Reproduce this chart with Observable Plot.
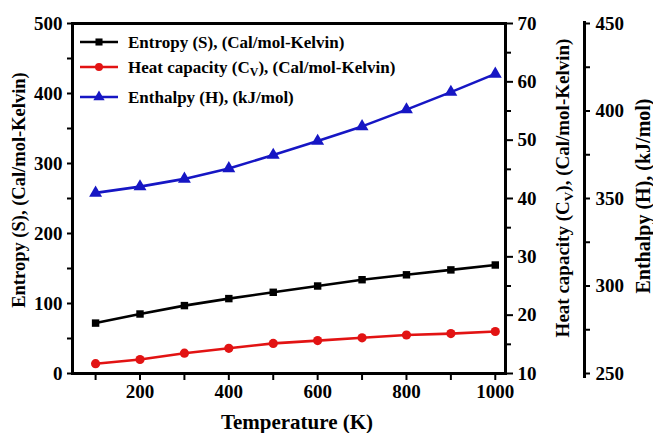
<!DOCTYPE html>
<html>
<head>
<meta charset="utf-8">
<script src="https://cdn.jsdelivr.net/npm/d3@7"></script>
<script src="https://cdn.jsdelivr.net/npm/@observablehq/plot@0.6"></script>
<style>
  html, body { margin: 0; padding: 0; background: #fff; }
  #chart { position: relative; width: 653px; height: 433px; }
</style>
</head>
<body>
<div id="chart"></div>
<script>
// ---- data (values as plotted against the left axis) ----
const temperature = [100, 200, 300, 400, 500, 600, 700, 800, 900, 1000];
const entropy = [72, 85, 97, 107, 116, 125, 134, 141, 148, 155];
const heatCapacity = [14, 20, 29, 36, 43, 47, 51, 55, 57, 60];
const enthalpy = [258, 267, 278, 293, 312, 332, 353, 377, 402, 428];

// ---- axes / ticks ----
const xDomain = [48, 1023];
const yDomain = [0, 500];
const xTicks = [100, 200, 300, 400, 500, 600, 700, 800, 900, 1000];
const yTicks = [0, 100, 200, 300, 400, 500];
const yMinorTicks = [50, 150, 250, 350, 450];
const cvDomain = [10, 70];
const cvTicks = [10, 20, 30, 40, 50, 60, 70];
const cvMinorTicks = [15, 25, 35, 45, 55, 65];
const hDomain = [250, 450];
const hTicks = [250, 300, 350, 400, 450];
const hMinorTicks = [275, 325, 375, 425];

const seriesNames = ["Entropy (S), (Cal/mol-Kelvin)", "Heat capacity (C_V), (Cal/mol-Kelvin)", "Enthalpy (H), (kJ/mol)"];
const seriesColors = ["#000000", "#e21313", "#1616c4"];

const toLeft = (dom) => (v) => (v - dom[0]) / (dom[1] - dom[0]) * (yDomain[1] - yDomain[0]) + yDomain[0];
const fromLeft = (dom) => (y) => Math.round((y - yDomain[0]) / (yDomain[1] - yDomain[0]) * (dom[1] - dom[0]) + dom[0]);
const cvToY = toLeft(cvDomain), cvFromY = fromLeft(cvDomain);
const hToY = toLeft(hDomain), hFromY = fromLeft(hDomain);

const rows = [];
[entropy, heatCapacity, enthalpy].forEach((vals, s) => {
  temperature.forEach((t, i) => rows.push({series: s, T: t, v: vals[i]}));
});

const FONT = "Liberation Serif, Times New Roman, serif";
const W = 653, H = 433;
const mL = 72, mR = 148, mT = 23, mB = 60;

const plot = Plot.plot({
  width: W, height: H,
  marginLeft: mL, marginRight: mR, marginTop: mT, marginBottom: mB,
  style: {fontFamily: FONT, fontWeight: "bold", fontSize: "19px", background: "white", color: "black", overflow: "visible"},
  x: {domain: xDomain},
  y: {domain: yDomain},
  marks: [
    // left axis
    Plot.axisY({ticks: yTicks, tickSize: 5, tickPadding: 5, fontSize: 19, strokeWidth: 2, label: null}),
    Plot.axisY({ticks: yMinorTicks, tickSize: 5, tickFormat: () => "", strokeWidth: 2, label: null}),
    // bottom axis
    Plot.axisX({ticks: xTicks, tickSize: 7, tickPadding: 4, fontSize: 19, strokeWidth: 2,
      tickFormat: d => d % 200 === 0 ? String(d) : "", label: null}),
    // right axis 1 (heat capacity)
    Plot.axisY({anchor: "right", ticks: cvTicks.map(cvToY), tickFormat: d => String(cvFromY(d)),
      tickSize: 7, tickPadding: 5, fontSize: 19, strokeWidth: 2, label: null}),
    Plot.axisY({anchor: "right", ticks: cvMinorTicks.map(cvToY), tickFormat: () => "",
      tickSize: 5, strokeWidth: 2, label: null}),
    // right axis 2 (enthalpy), offset outward
    Plot.ruleX([xDomain[1]], {dx: 79, stroke: "black", strokeWidth: 3, insetTop: -2, insetBottom: -5}),
    Plot.axisY({anchor: "right", dx: 79, ticks: hTicks.map(hToY), tickFormat: d => String(hFromY(d)),
      tickSize: 5, tickPadding: 6, fontSize: 19, strokeWidth: 2, label: null}),
    Plot.axisY({anchor: "right", dx: 79, ticks: hMinorTicks.map(hToY), tickFormat: () => "",
      tickSize: 5, strokeWidth: 2, label: null}),
    // frame
    Plot.frame({stroke: "black", strokeWidth: 3}),
    // series
    Plot.line(rows, {x: "T", y: "v", z: "series", stroke: d => seriesColors[d.series], strokeWidth: 2.6}),
    Plot.dot(rows.filter(d => d.series === 0), {x: "T", y: "v", symbol: "square", r: 4.2, fill: seriesColors[0], stroke: "none"}),
    Plot.dot(rows.filter(d => d.series === 1), {x: "T", y: "v", symbol: "circle", r: 4.6, fill: seriesColors[1], stroke: "none"}),
    Plot.dot(rows.filter(d => d.series === 2), {x: "T", y: "v", symbol: "triangle", r: 4.8, fill: seriesColors[2], stroke: "none"})
  ]
});

document.getElementById("chart").appendChild(plot);

// ---- axis titles & legend (added into the same SVG) ----
const svg = d3.select(plot);

function addText(g, text, x, y, rotate, size, anchor) {
  const t = g.append("text")
    .attr("transform", `translate(${x},${y}) rotate(${rotate})`)
    .attr("text-anchor", anchor)
    .attr("dominant-baseline", "central")
    .attr("font-family", FONT)
    .attr("font-weight", "bold")
    .attr("font-size", size)
    .attr("fill", "black");
  const parts = text.split("_V");
  if (parts.length === 1) { t.text(text); return t; }
  t.append("tspan").text(parts[0]);
  t.append("tspan").attr("font-size", size * 0.7).attr("dy", size * 0.3).text("V");
  t.append("tspan").attr("dy", -size * 0.3).text(parts[1]);
  return t;
}

const titles = svg.append("g");
addText(titles, "Entropy (S), (Cal/mol-Kelvin)", 19, 190, -90, 18.5, "middle");
addText(titles, "Heat capacity (C_V), (Cal/mol-Kelvin)", 562, 188, -90, 19, "middle");
addText(titles, "Enthalpy (H), (kJ/mol)", 643, 196, -90, 20, "middle");
addText(titles, "Temperature (K)", 297, 422, 0, 21, "middle");

// legend
const legend = svg.append("g");
const legendRowsY = [42, 67, 97];
const symbolGen = [d3.symbolSquare, d3.symbolCircle, d3.symbolTriangle];
seriesNames.forEach((name, i) => {
  const y = legendRowsY[i];
  legend.append("line").attr("x1", 80).attr("x2", 118).attr("y1", y).attr("y2", y)
    .attr("stroke", seriesColors[i]).attr("stroke-width", 2.6);
  legend.append("path").attr("d", d3.symbol(symbolGen[i], i === 2 ? 55 : 50)())
    .attr("transform", `translate(99,${y})`).attr("fill", seriesColors[i]);
  addText(legend, name, 128, y, 0, 17, "start");
});
</script>
</body>
</html>
